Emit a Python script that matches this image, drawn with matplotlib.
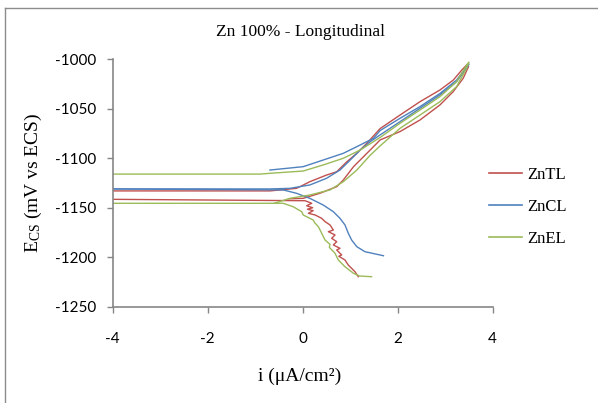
import matplotlib
matplotlib.use("Agg")
import matplotlib.pyplot as plt
from matplotlib.lines import Line2D

# ---------------- data ----------------
title = "Zn 100% - Longitudinal"
series_names = ["ZnTL", "ZnCL", "ZnEL"]
x_ticks = [-4, -2, 0, 2, 4]
y_ticks = [-1250, -1200, -1150, -1100, -1050, -1000]

# ZnTL (red)
tl_a_x = [-4, -0.69, -0.13, 0.15, 0.5, 0.716, 0.93, 1.14, 1.35, 1.63, 2.05, 2.47, 2.89, 3.17, 3.35, 3.45]
tl_a_y = [-1133, -1133, -1130.4, -1123.7, -1117, -1113.6, -1103.5, -1095, -1084.9, -1070, -1056.3, -1042.8, -1031, -1021, -1010.8, -1005.8]
tl_b_x = [-4, 0.048, 0.19, 0.084, 0.21, 0.1, 0.22, 0.12, 0.26, 0.4, 0.47, 0.575, 0.645, 0.54, 0.68, 0.61, 0.716, 0.645, 0.785, 0.716, 0.82, 0.76, 0.89, 0.96, 1.03, 1.1, 1.17]
tl_b_y = [-1141.5, -1142.9, -1145.5, -1148, -1150, -1151.5, -1153, -1155.6, -1157.3, -1160.7, -1164, -1167.4, -1172.5, -1174.2, -1177.5, -1180.9, -1184.3, -1187.6, -1191, -1192.7, -1197.7, -1199, -1202.8, -1207.9, -1211.2, -1214.6, -1219.7]
tl_c_x = [-0.3, 0.01, 0.36, 0.716, 0.855, 1.07, 1.28, 1.49, 1.63, 2.05, 2.47, 2.89, 3.17, 3.38, 3.49]
tl_c_y = [-1141, -1140.5, -1135.4, -1128.7, -1122, -1108.5, -1098.4, -1088.3, -1081.5, -1073, -1061.3, -1046.1, -1032.6, -1019.1, -1007.5]

# ZnCL (blue)
cl_a_x = [-4, -0.41, -0.13, 0.15, 0.43, 0.645, 0.785, 0.89, 0.96, 1.03, 1.14, 1.31, 1.70]
cl_a_y = [-1131, -1132, -1135.4, -1140.5, -1147.2, -1154, -1160.7, -1167.4, -1175.8, -1182.6, -1189.4, -1194.4, -1198.5]
cl_b_x = [-4, -0.69, -0.27, 0.15, 0.5, 0.785, 1.0, 1.21, 1.42, 1.63, 2.05, 2.47, 2.89, 3.24, 3.45, 3.5]
cl_b_y = [-1131, -1131, -1130.4, -1127, -1120.3, -1111.9, -1101.8, -1091.7, -1083.3, -1076.4, -1063, -1049.5, -1036, -1022.6, -1009, -1005]
cl_c_x = [-0.69, 0.01, 0.43, 0.855, 1.21, 1.49, 1.63, 2.05, 2.47, 2.89, 3.24, 3.45]
cl_c_y = [-1111.9, -1108.5, -1101.8, -1095, -1086.6, -1079.8, -1072, -1059.6, -1047.8, -1034.5, -1021, -1007.5]

# ZnEL (green)
el_a_x = [-4, -0.9, -0.69, 0.01, 0.43, 0.855, 1.21, 1.63, 2.05, 2.47, 2.89, 3.24, 3.45, 3.5]
el_a_y = [-1116, -1116, -1115.2, -1112.9, -1106.8, -1100, -1091.7, -1079, -1064.6, -1051.2, -1037.7, -1022.6, -1005.8, -1003]
el_b_x = [-4, -0.41, -0.2, -0.02, 0.01, 0.22, 0.25, 0.33, 0.4, 0.47, 0.575, 0.56, 0.68, 0.75, 0.89, 1.07, 1.2, 1.45]
el_b_y = [-1145.5, -1145.5, -1149, -1154, -1157.3, -1162.4, -1165, -1169.2, -1175.8, -1182.6, -1187, -1190, -1196, -1202.8, -1209.6, -1216.3, -1219, -1219.7]
el_c_x = [-0.6, -0.27, 0.15, 0.575, 0.855, 1.14, 1.42, 1.63, 2.05, 2.47, 2.89, 3.24, 3.45, 3.49]
el_c_y = [-1145.5, -1140.5, -1137.1, -1132, -1123.7, -1111.9, -1097, -1087.5, -1069.7, -1056.3, -1042.8, -1027.6, -1009, -1004]

# ---------------- style ----------------
RED = "#C0504D"
BLUE = "#4F81BD"
GREEN = "#9BBB59"
GRAY = "#868686"
SERIF = "Liberation Serif"
SANS = "Lato"

plt.rcParams["mathtext.fontset"] = "custom"
plt.rcParams["mathtext.rm"] = SERIF
plt.rcParams["mathtext.it"] = SERIF + ":italic"

fig = plt.figure(figsize=(5.98, 4.03), dpi=100)
ax = fig.add_axes([112.7 / 598, 1 - 306.7 / 403, (492.7 - 112.7) / 598, (306.7 - 59.3) / 403])

lw = 1.0
for xs, ys in [(tl_a_x, tl_a_y), (tl_b_x, tl_b_y), (tl_c_x, tl_c_y)]:
    ax.plot(xs, ys, color=RED, lw=lw)
for xs, ys in [(cl_a_x, cl_a_y), (cl_b_x, cl_b_y), (cl_c_x, cl_c_y)]:
    ax.plot(xs, ys, color=BLUE, lw=lw)
for xs, ys in [(el_a_x, el_a_y), (el_b_x, el_b_y), (el_c_x, el_c_y)]:
    ax.plot(xs, ys, color=GREEN, lw=lw)

ax.set_xlim(-4, 4)
ax.set_ylim(-1250, -1000)
ax.set_xticks(x_ticks)
ax.set_yticks(y_ticks)
ax.set_xticklabels([str(v) for v in x_ticks], fontfamily=SANS, fontsize=11)
ax.set_yticklabels([str(v) for v in y_ticks], fontfamily=SANS, fontsize=11)
for s in ["top", "right"]:
    ax.spines[s].set_visible(False)
for s in ["left", "bottom"]:
    ax.spines[s].set_color(GRAY)
    ax.spines[s].set_linewidth(1.2)
ax.tick_params(axis="both", direction="out", length=4, width=1, color=GRAY, colors="black")
ax.tick_params(axis="x", pad=14)
ax.tick_params(axis="y", pad=8)

fig.text(300 / 598, 1 - 32 / 403, title, ha="center", va="center", fontfamily=SERIF, fontsize=12.5)
fig.text(33 / 598, 1 - 183 / 403, r"E$_{\rm CS}$ (mV vs ECS)", ha="center", va="center",
         rotation=90, fontfamily=SERIF, fontsize=14)
fig.text(300 / 598, 1 - 376 / 403, "i (μA/cm²)", ha="center", va="center", fontfamily=SERIF, fontsize=14)

handles = [Line2D([], [], color=c, lw=1.2) for c in (RED, BLUE, GREEN)]
fig.legend(handles, series_names, loc="center left", bbox_to_anchor=(474 / 598, 1 - 207 / 403),
           frameon=False, prop={"family": SERIF, "size": 12}, handlelength=2.0,
           handletextpad=0.3, labelspacing=0.95)

# outer frame (top and left edges visible in reference)
fig.add_artist(Line2D([5 / 598, 1], [1 - 8 / 403, 1 - 8 / 403], transform=fig.transFigure, color="#8c8c8c", lw=1))
fig.add_artist(Line2D([5 / 598, 5 / 598], [0, 1 - 8 / 403], transform=fig.transFigure, color="#8c8c8c", lw=1))

fig.savefig("out.png", dpi=100)
